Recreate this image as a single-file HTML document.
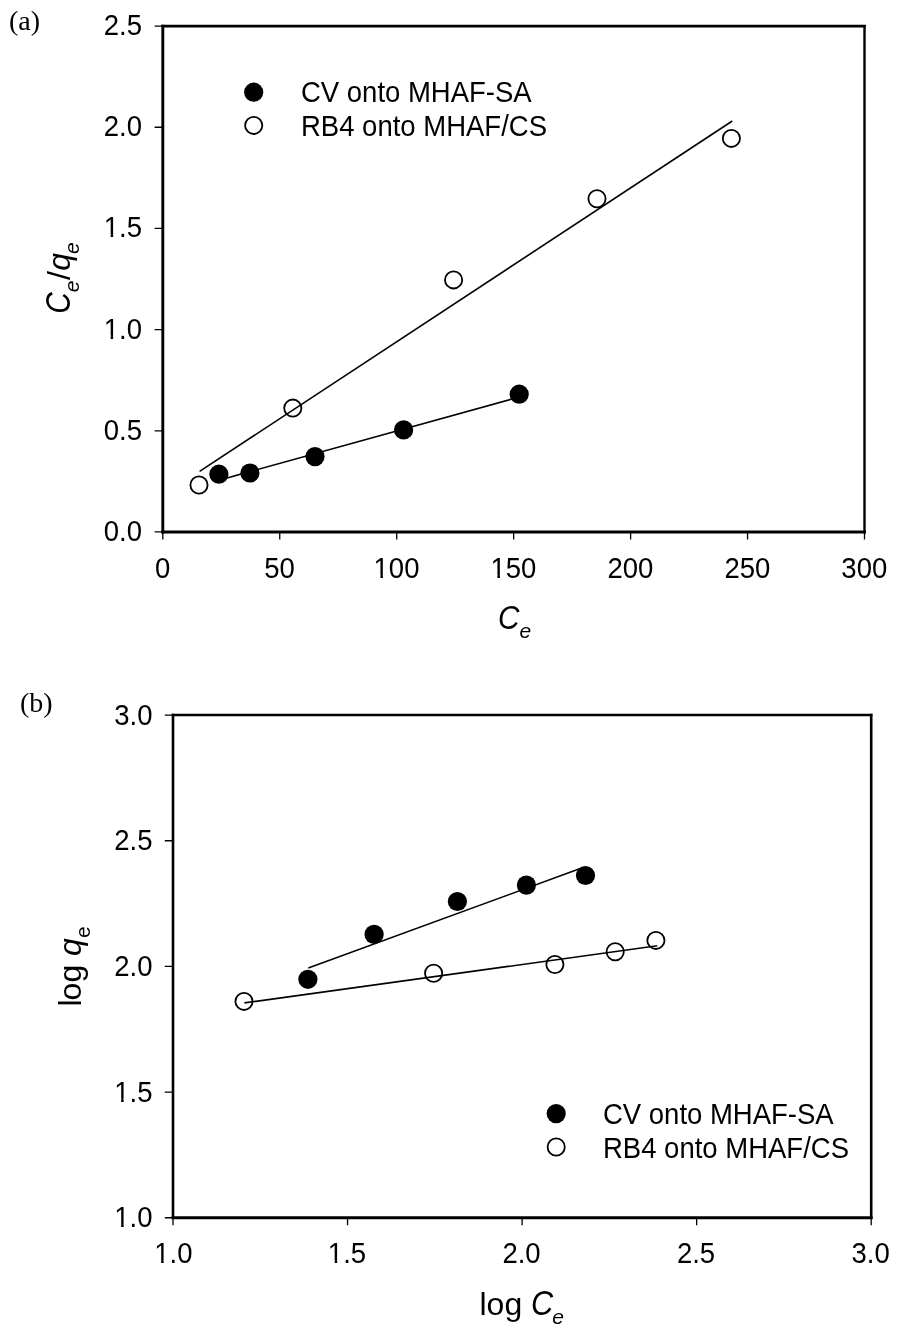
<!DOCTYPE html>
<html>
<head>
<meta charset="utf-8">
<title>Adsorption isotherm plots</title>
<style>
html,body{margin:0;padding:0;background:#fff;}
body{width:902px;height:1344px;overflow:hidden;}
svg{display:block;}
.t{font-family:"Liberation Sans",Arial,Helvetica,sans-serif;font-size:27.5px;fill:#000;}
.ti{font-family:"Liberation Sans",Arial,Helvetica,sans-serif;font-size:32px;fill:#000;}
.lab{font-family:"Liberation Serif","Times New Roman",serif;font-size:28px;fill:#000;}
</style>
</head>
<body>
<svg width="902" height="1344" viewBox="0 0 902 1344">
<rect width="902" height="1344" fill="#fff"/>
<!-- Panel (a) -->
<text class="lab" x="9" y="30">(a)</text>
<g stroke="#000" stroke-width="1.3" fill="none"><path d="M154.6 531.95H162.8 M154.6 430.78H162.8 M154.6 329.61H162.8 M154.6 228.44H162.8 M154.6 127.27H162.8 M154.6 26.1H162.8"/><path d="M162.8 531.95V539.55 M279.75 531.95V539.55 M396.7 531.95V539.55 M513.65 531.95V539.55 M630.6 531.95V539.55 M747.55 531.95V539.55 M864.5 531.95V539.55"/></g>
<g stroke="#000" fill="none" stroke-linecap="square"><path d="M162.8 26.1H864.5" stroke-width="2.6"/><path d="M162.8 531.95H864.5" stroke-width="2.95"/><path d="M162.8 26.1V531.95" stroke-width="2.9"/><path d="M864.5 26.1V531.95" stroke-width="2.4"/></g>
<g class="t" text-anchor="end">
  <text transform="translate(142 540.95) scale(1 1.05)">0.0</text>
  <text transform="translate(142 439.78) scale(1 1.05)">0.5</text>
  <text transform="translate(142 338.61) scale(1 1.05)">1.0</text>
  <text transform="translate(142 237.44) scale(1 1.05)">1.5</text>
  <text transform="translate(142 136.27) scale(1 1.05)">2.0</text>
  <text transform="translate(142 35.1) scale(1 1.05)">2.5</text>
</g>
<g class="t" text-anchor="middle">
  <text transform="translate(162.6 578) scale(1 1.05)">0</text>
  <text transform="translate(279.55 578) scale(1 1.05)">50</text>
  <text transform="translate(396.5 578) scale(1 1.05)">100</text>
  <text transform="translate(513.45 578) scale(1 1.05)">150</text>
  <text transform="translate(630.4 578) scale(1 1.05)">200</text>
  <text transform="translate(747.35 578) scale(1 1.05)">250</text>
  <text transform="translate(864.3 578) scale(1 1.05)">300</text>
</g>
<text class="ti" font-style="italic" style="font-size:33.5px" transform="translate(70.3 313.7) rotate(-90) scale(0.89 1.04)">C</text>
<text class="ti" transform="translate(70.3 292.3) rotate(-90)"><tspan font-style="italic" font-size="21" dy="9">e</tspan><tspan dy="-9" dx="0.7">/</tspan><tspan font-style="italic" dx="0.2">q</tspan><tspan font-style="italic" font-size="21" dy="9" dx="-1">e</tspan></text>
<text class="ti" font-style="italic" transform="translate(498 629) scale(0.93 1.05)">C</text>
<text class="ti" font-style="italic" style="font-size:21px" x="519.6" y="638">e</text>
<circle cx="253.7" cy="92.2" r="9.6" fill="#000"/>
<circle cx="253.7" cy="125.4" r="8.6" fill="#fff" stroke="#000" stroke-width="1.8"/>
<text class="t" transform="translate(301 101.5) scale(1 1.05)">CV onto MHAF-SA</text>
<text class="t" transform="translate(301 135.5) scale(1 1.05)">RB4 onto MHAF/CS</text>
<g stroke="#000" stroke-width="1.6" fill="none"><path d="M199.6 471.4L732.3 121"/><path d="M219 480.2L519 397.1"/></g>
<g fill="#000"><circle cx="218.9" cy="474.2" r="9.6"/><circle cx="249.9" cy="473" r="9.6"/><circle cx="315" cy="456.6" r="9.6"/><circle cx="403.6" cy="429.9" r="9.6"/><circle cx="519.2" cy="394.2" r="9.6"/></g>
<g fill="none" stroke="#000" stroke-width="1.8"><circle cx="199" cy="485" r="8.6"/><circle cx="292.8" cy="408.1" r="8.6"/><circle cx="453.6" cy="279.9" r="8.6"/><circle cx="597" cy="198.8" r="8.6"/><circle cx="731.4" cy="138.4" r="8.6"/></g>
<!-- Panel (b) -->
<text class="lab" x="20" y="712.4">(b)</text>
<g stroke="#000" stroke-width="1.3" fill="none"><path d="M164.8 1217.75H173 M164.8 1092.09H173 M164.8 966.42H173 M164.8 840.76H173 M164.8 715.1H173"/><path d="M173 1217.75V1225.35 M347.55 1217.75V1225.35 M522.1 1217.75V1225.35 M696.65 1217.75V1225.35 M871.2 1217.75V1225.35"/></g>
<g stroke="#000" fill="none" stroke-linecap="square"><path d="M173 715.1H871.2" stroke-width="2.5"/><path d="M173 1217.75H871.2" stroke-width="2.9"/><path d="M173 715.1V1217.75" stroke-width="2.6"/><path d="M871.2 715.1V1217.75" stroke-width="2.6"/></g>
<g class="t" text-anchor="end">
  <text transform="translate(152.5 1227.35) scale(1 1.05)">1.0</text>
  <text transform="translate(152.5 1101.69) scale(1 1.05)">1.5</text>
  <text transform="translate(152.5 976.02) scale(1 1.05)">2.0</text>
  <text transform="translate(152.5 850.36) scale(1 1.05)">2.5</text>
  <text transform="translate(152.5 724.7) scale(1 1.05)">3.0</text>
</g>
<g class="t" text-anchor="middle">
  <text transform="translate(173.4 1263.4) scale(1 1.05)">1.0</text>
  <text transform="translate(346.95 1263.4) scale(1 1.05)">1.5</text>
  <text transform="translate(521.5 1263.4) scale(1 1.05)">2.0</text>
  <text transform="translate(696.05 1263.4) scale(1 1.05)">2.5</text>
  <text transform="translate(870.6 1263.4) scale(1 1.05)">3.0</text>
</g>
<text class="ti" transform="translate(81.1,1006.5) rotate(-90)">l<tspan dx="-1">og </tspan><tspan font-style="italic">q</tspan><tspan font-size="21" dy="9">e</tspan></text>
<text class="ti" x="479.5" y="1314.6">log</text>
<text class="ti" font-style="italic" transform="translate(531.1 1314.6) scale(0.96 1.07)">C</text>
<text class="ti" font-style="italic" style="font-size:21px" x="552.2" y="1323.6">e</text>
<circle cx="556.2" cy="1113.6" r="9.6" fill="#000"/>
<circle cx="556.2" cy="1147" r="8.6" fill="#fff" stroke="#000" stroke-width="1.8"/>
<text class="t" transform="translate(603 1124) scale(1 1.05)">CV onto MHAF-SA</text>
<text class="t" transform="translate(603 1157.5) scale(1 1.05)">RB4 onto MHAF/CS</text>
<g stroke="#000" stroke-width="1.6" fill="none"><path d="M244.4 1002.9L657.2 945.8"/><path d="M308.3 967.9L583 867.6"/></g>
<g fill="#000"><circle cx="307.9" cy="979.3" r="9.6"/><circle cx="374.1" cy="934.4" r="9.6"/><circle cx="457.4" cy="901.5" r="9.6"/><circle cx="526.4" cy="885.1" r="9.6"/><circle cx="585.5" cy="875.5" r="9.6"/></g>
<g fill="none" stroke="#000" stroke-width="1.8"><circle cx="244" cy="1001.4" r="8.6"/><circle cx="433.6" cy="973.3" r="8.6"/><circle cx="554.9" cy="964.5" r="8.6"/><circle cx="615.2" cy="951.8" r="8.6"/><circle cx="655.9" cy="940.4" r="8.6"/></g>
<!-- Arial-style numeral one: hide the foot serif of Liberation Sans "1" -->
<g fill="#fff"><rect x="104.87" y="335" width="5.77" height="5"/><rect x="113.17" y="335" width="5.61" height="5"/><rect x="104.87" y="234" width="5.77" height="5"/><rect x="113.17" y="234" width="5.61" height="5"/><rect x="374.65" y="575" width="5.77" height="4"/><rect x="382.95" y="575" width="5.61" height="4"/><rect x="491.6" y="575" width="5.77" height="4"/><rect x="499.9" y="575" width="5.61" height="4"/><rect x="115.37" y="1224" width="5.77" height="5"/><rect x="123.67" y="1224" width="5.61" height="5"/><rect x="115.37" y="1098" width="5.77" height="5"/><rect x="123.67" y="1098" width="5.61" height="5"/><rect x="155.38" y="1260" width="5.77" height="5"/><rect x="163.68" y="1260" width="5.61" height="5"/><rect x="328.93" y="1260" width="5.77" height="5"/><rect x="337.23" y="1260" width="5.61" height="5"/></g>
</svg>
</body>
</html>
